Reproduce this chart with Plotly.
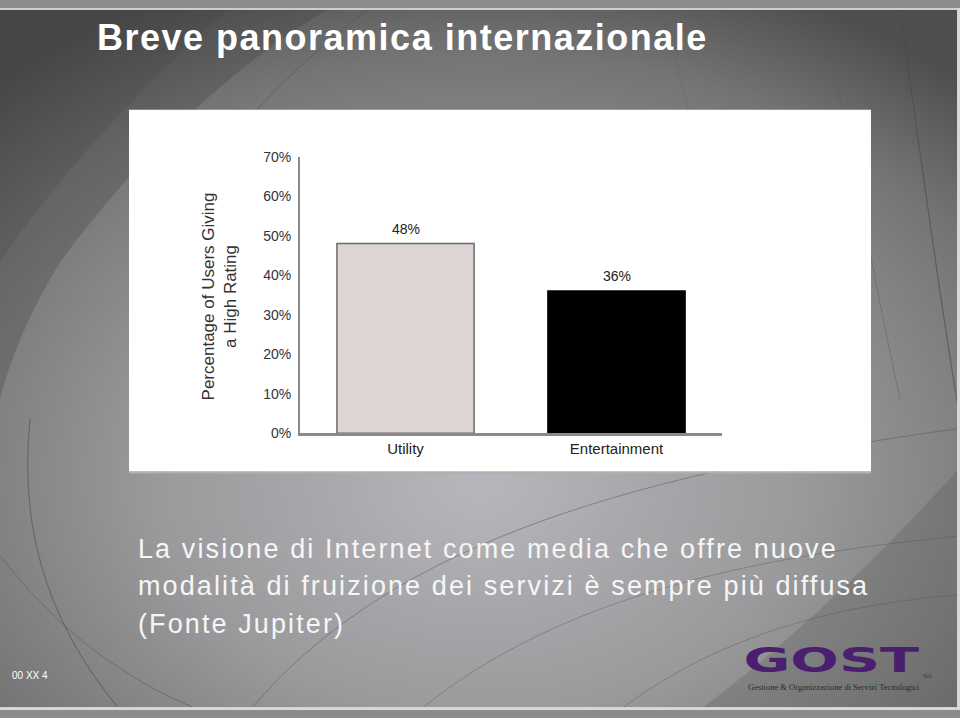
import base64
import plotly.graph_objects as go

# ---------------- data ----------------
categories = ["Utility", "Entertainment"]
values = [0.48, 0.36]
bar_colors = ["#ddd5d3", "#000000"]
y_tick_vals = [0, 0.1, 0.2, 0.3, 0.4, 0.5, 0.6, 0.7]
y_tick_text = ["0%", "10%", "20%", "30%", "40%", "50%", "60%", "70%"]
title_text = "Breve panoramica internazionale"
y_title = "Percentage of Users Giving<br>a High Rating"
body_lines = [
    "La visione di Internet come media che offre nuove",
    "modalità di fruizione dei servizi è sempre più diffusa",
    "(Fonte Jupiter)",
]
footer_text = "00 XX 4"

W, H = 960, 718


def px(x):
    return x / W


def py(y):
    return (H - y) / H


# ---------------- background (slide) ----------------
svg = f"""<svg xmlns="http://www.w3.org/2000/svg" width="{W}" height="{H}" viewBox="0 0 {W} {H}">
<defs>
<radialGradient id="g" cx="0.50" cy="0.66" r="0.75" fx="0.50" fy="0.68">
<stop offset="0" stop-color="#b6b6bc"/>
<stop offset="0.45" stop-color="#9a9a9c"/>
<stop offset="0.8" stop-color="#747474"/>
<stop offset="1" stop-color="#4e4e4e"/>
</radialGradient>
</defs>
<rect width="{W}" height="{H}" fill="url(#g)"/>
<path d="M0,0 L330,0 C230,60 140,150 60,260 C30,310 10,360 0,400 Z" fill="#3c3c3c" fill-opacity="0.28"/>
<path d="M0,0 L230,0 C140,80 60,170 0,260 Z" fill="#3c3c3c" fill-opacity="0.18"/>
<path d="M370,0 C280,70 220,140 160,230" stroke="#555" stroke-width="1" fill="none" stroke-opacity="0.6"/>
<path d="M30,420 C20,520 40,620 120,718" stroke="#555" stroke-width="1.2" fill="none" stroke-opacity="0.6"/>
<path d="M0,560 C60,640 130,690 200,718" stroke="#555" stroke-width="1" fill="none" stroke-opacity="0.5"/>
<path d="M250,718 C380,560 600,480 960,430" stroke="#5a5a5a" stroke-width="1" fill="none" stroke-opacity="0.55"/>
<path d="M420,718 C560,600 760,560 960,540" stroke="#5a5a5a" stroke-width="1" fill="none" stroke-opacity="0.45"/>
<path d="M620,718 C720,640 840,610 960,600" stroke="#5a5a5a" stroke-width="1" fill="none" stroke-opacity="0.45"/>
<path d="M960,470 C880,560 800,640 700,718 L960,718 Z" fill="#4a4a4a" fill-opacity="0.22"/>
<path d="M900,0 C920,150 940,300 960,420" stroke="#4a4a4a" stroke-width="1.2" fill="none" stroke-opacity="0.6"/>
<path d="M820,0 C850,130 870,260 900,400" stroke="#5a5a5a" stroke-width="1" fill="none" stroke-opacity="0.45"/>
<path d="M660,0 C700,130 720,260 740,330" stroke="#5a5a5a" stroke-width="0.8" fill="none" stroke-opacity="0.35"/>
<rect x="0" y="0" width="{W}" height="2" fill="#d0d0d0"/>
<rect x="0" y="{H-3}" width="{W}" height="3" fill="#d8d8d8"/>
<rect x="{W-3}" y="0" width="3" height="{H}" fill="#d8d8d8"/>
</svg>"""
bg_uri = "data:image/svg+xml;base64," + base64.b64encode(svg.encode("utf-8")).decode("ascii")

fig = go.Figure()

fig.add_trace(
    go.Bar(
        x=categories,
        y=values,
        width=0.65,
        marker=dict(color=bar_colors, line=dict(color=["#6a6a6a", "#000000"], width=1.5)),
        showlegend=False,
        hoverinfo="skip",
    )
)

annotations = []
# value labels above bars
for c, v in zip(categories, values):
    annotations.append(
        dict(
            text=f"{v:.0%}", x=c, y=v, xref="x", yref="y",
            xanchor="center", yanchor="middle", yshift=15, showarrow=False,
            font=dict(family="Liberation Sans, Arial, sans-serif", size=14, color="#222222"),
        )
    )

annotations += [
    dict(
        text=f"<b>{title_text}</b>",
        x=px(95), y=py(30), xref="paper", yref="paper",
        xanchor="left", yanchor="middle", showarrow=False,
        font=dict(family="Liberation Sans, Arial, sans-serif", size=36, color="#ffffff"),
    ),
    dict(
        text=y_title,
        x=px(219), y=py(295), xref="paper", yref="paper",
        xanchor="center", yanchor="middle", showarrow=False, textangle=-90,
        font=dict(family="Liberation Sans, Arial, sans-serif", size=17, color="#333333"),
    ),
    dict(
        text=footer_text,
        x=px(10), y=py(683), xref="paper", yref="paper",
        xanchor="left", yanchor="middle", showarrow=False,
        font=dict(family="Liberation Sans, Arial, sans-serif", size=10, color="#ffffff"),
    ),
    dict(
        text="<b>GOST</b>",
        x=px(831), y=py(667), xref="paper", yref="paper",
        xanchor="center", yanchor="middle", showarrow=False,
        font=dict(family="DejaVu Sans, sans-serif", size=34, color="#4a1f6e"),
    ),
    dict(
        text="Srl.",
        x=px(921), y=py(683), xref="paper", yref="paper",
        xanchor="left", yanchor="middle", showarrow=False,
        font=dict(family="Liberation Serif, serif", size=7, color="#333333"),
    ),
    dict(
        text="Gestione &amp; Organizzazione di Servizi Tecnologici",
        x=px(834), y=py(694), xref="paper", yref="paper",
        xanchor="center", yanchor="middle", showarrow=False,
        font=dict(family="Liberation Serif, serif", size=8.5, color="#2a2a2a"),
    ),
]

line_y = [553, 591, 630]
for txt, yy in zip(body_lines, line_y):
    annotations.append(
        dict(
            text=txt,
            x=px(136), y=py(yy), xref="paper", yref="paper",
            xanchor="left", yanchor="middle", showarrow=False,
            font=dict(family="Liberation Sans, Arial, sans-serif", size=27, color="#f6f6f6"),
        )
    )

fig.update_layout(
    width=W,
    height=H,
    margin=dict(l=0, r=0, t=0, b=0),
    paper_bgcolor="#8c8c8c",
    plot_bgcolor="#ffffff",
    images=[
        dict(source=bg_uri, xref="paper", yref="paper", x=0, y=1, sizex=1, sizey=1,
             sizing="stretch", xanchor="left", yanchor="top", layer="below")
    ],
    shapes=[
        dict(type="rect", xref="paper", yref="paper",
             x0=px(129), x1=px(871), y0=py(474), y1=py(104),
             fillcolor="#ffffff", line=dict(width=0), layer="below"),
        dict(type="rect", xref="paper", yref="paper",
             x0=px(129), x1=px(871), y0=py(476), y1=py(474),
             fillcolor="#b0b0b0", line=dict(width=0), layer="below"),
    ],
    xaxis=dict(
        domain=[px(300), px(722)],
        range=[-0.5, 1.5],
        showline=True, linecolor="#8a8a8a", linewidth=3,
        showgrid=False, zeroline=False, ticks="",
        tickfont=dict(family="Liberation Sans, Arial, sans-serif", size=15, color="#222222"),
        fixedrange=True,
    ),
    yaxis=dict(
        domain=[py(435), py(152)],
        range=[0, 0.7],
        tickvals=y_tick_vals, ticktext=y_tick_text,
        showline=True, linecolor="#8a8a8a", linewidth=2,
        showgrid=False, zeroline=False, ticks="",
        ticklabelstandoff=4,
        tickfont=dict(family="Liberation Sans, Arial, sans-serif", size=14, color="#333333"),
        fixedrange=True,
    ),
    annotations=annotations,
    showlegend=False,
)

post_js = """
(function(){
  var gd = document.getElementById('{plot_id}');
  function spaceLeft(t, ls){
    if (t.getAttribute('data-ls') === ls) return;
    t.style.transform = '';
    t.style.letterSpacing = '';
    var b0 = t.getBBox();
    t.style.letterSpacing = ls;
    var b1 = t.getBBox();
    var dx = b0.x - b1.x;
    t.style.transform = 'translateX(' + dx + 'px)';
    t.setAttribute('data-ls', ls);
  }
  function fix(){
    document.querySelectorAll('text.annotation-text').forEach(function(t){
      var s = t.textContent || '';
      if (s.indexOf('La visione') === 0 || s.indexOf('modalit') === 0 || s.indexOf('(Fonte') === 0) {
        spaceLeft(t, '2.1px');
      } else if (s.indexOf('Breve') === 0) {
        spaceLeft(t, '1.5px');
      } else if (s === 'GOST') {
        t.style.transformBox = 'fill-box';
        t.style.transformOrigin = 'center';
        t.style.transform = 'scaleX(1.68)';
      }
    });
  }
  fix();
  if (gd && gd.on) { gd.on('plotly_afterplot', fix); }
})();
"""

fig.write_html("out.html", post_script=post_js)
